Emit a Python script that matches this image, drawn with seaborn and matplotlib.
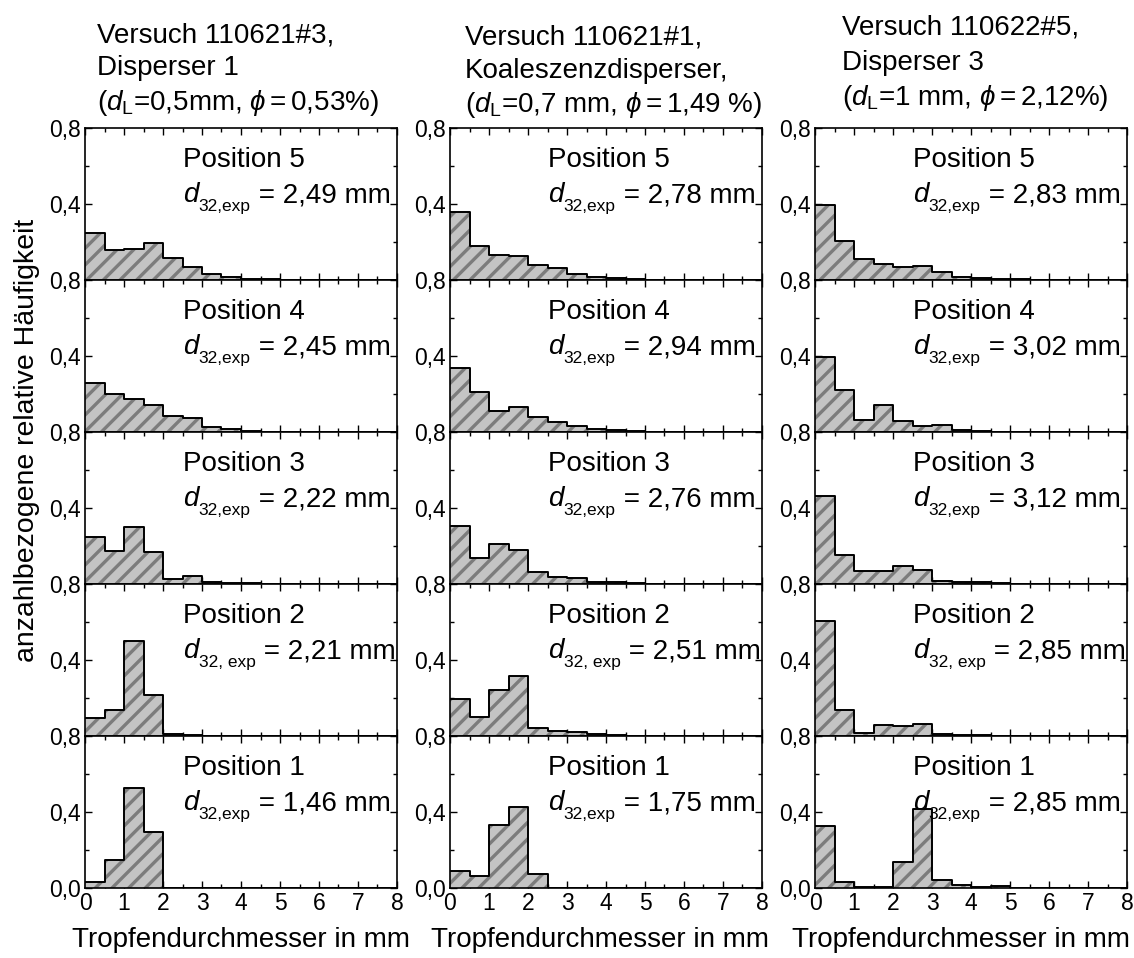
import matplotlib
matplotlib.use("Agg")
import matplotlib.pyplot as plt
from matplotlib.ticker import MultipleLocator, FixedLocator, FuncFormatter
import seaborn as sns

# bin edges of the droplet size classes (mm)
edges = [i * 0.5 for i in range(17)]
centers = [e + 0.25 for e in edges[:-1]]

# relative frequency per class, column 1 (Versuch 110621#3)
c1_pos5 = [0.247, 0.158, 0.164, 0.196, 0.114, 0.068, 0.033, 0.015, 0.007, 0.003, 0.001, 0, 0, 0, 0, 0]
c1_pos4 = [0.260, 0.200, 0.174, 0.143, 0.083, 0.075, 0.026, 0.016, 0.003, 0.001, 0, 0, 0, 0, 0, 0]
c1_pos3 = [0.247, 0.176, 0.299, 0.171, 0.025, 0.040, 0.010, 0.005, 0.003, 0.001, 0, 0, 0, 0, 0, 0]
c1_pos2 = [0.096, 0.135, 0.501, 0.218, 0.010, 0.004, 0.002, 0.001, 0, 0, 0, 0, 0, 0, 0, 0]
c1_pos1 = [0.031, 0.145, 0.527, 0.294, 0, 0, 0, 0, 0, 0, 0, 0, 0, 0, 0, 0]

# column 2 (Versuch 110621#1)
c2_pos5 = [0.360, 0.181, 0.129, 0.124, 0.077, 0.064, 0.033, 0.017, 0.008, 0.003, 0.001, 0, 0, 0, 0, 0]
c2_pos4 = [0.338, 0.208, 0.112, 0.132, 0.078, 0.055, 0.034, 0.018, 0.008, 0.003, 0.001, 0, 0, 0, 0, 0]
c2_pos3 = [0.304, 0.135, 0.213, 0.177, 0.062, 0.039, 0.031, 0.013, 0.008, 0.003, 0.001, 0, 0, 0, 0, 0]
c2_pos2 = [0.195, 0.101, 0.242, 0.317, 0.044, 0.026, 0.021, 0.010, 0.005, 0.002, 0, 0, 0, 0, 0, 0]
c2_pos1 = [0.091, 0.062, 0.330, 0.426, 0.073, 0, 0, 0, 0.002, 0, 0, 0, 0, 0, 0, 0]

# column 3 (Versuch 110622#5)
c3_pos5 = [0.393, 0.205, 0.111, 0.083, 0.068, 0.074, 0.041, 0.016, 0.008, 0.005, 0.003, 0.001, 0, 0, 0, 0]
c3_pos4 = [0.394, 0.223, 0.065, 0.140, 0.060, 0.031, 0.036, 0.010, 0.005, 0.002, 0, 0, 0, 0, 0, 0]
c3_pos3 = [0.465, 0.151, 0.070, 0.070, 0.096, 0.075, 0.018, 0.013, 0.008, 0.003, 0.001, 0, 0, 0, 0, 0]
c3_pos2 = [0.605, 0.135, 0.016, 0.060, 0.055, 0.065, 0.013, 0.005, 0.003, 0.001, 0, 0, 0, 0, 0, 0]
c3_pos1 = [0.325, 0.031, 0.006, 0.006, 0.135, 0.417, 0.043, 0.017, 0.006, 0.010, 0, 0, 0, 0, 0, 0]

columns = [
    [c1_pos5, c1_pos4, c1_pos3, c1_pos2, c1_pos1],
    [c2_pos5, c2_pos4, c2_pos3, c2_pos2, c2_pos1],
    [c3_pos5, c3_pos4, c3_pos3, c3_pos2, c3_pos1],
]
d32_values = [
    ["2,49", "2,45", "2,22", "2,21", "1,46"],
    ["2,78", "2,94", "2,76", "2,51", "1,75"],
    ["2,83", "3,02", "3,12", "2,85", "2,85"],
]
d32_subs = ["32,exp", "32,exp", "32,exp", "32, exp", "32,exp"]
positions = ["Position 5", "Position 4", "Position 3", "Position 2", "Position 1"]
titles = [
    ["Versuch 110621#3,", "Disperser 1", r"($d_{\mathrm{L}}$=0,5mm, $\phi=$0,53%)"],
    ["Versuch 110621#1,", "Koaleszenzdisperser,", r"($d_{\mathrm{L}}$=0,7 mm, $\phi=$1,49 %)"],
    ["Versuch 110622#5,", "Disperser 3", r"($d_{\mathrm{L}}$=1 mm, $\phi=$2,12%)"],
]
xlabel = "Tropfendurchmesser in mm"
ylabel = "anzahlbezogene relative Häufigkeit"

sns.set_style("ticks")
plt.rcParams["font.family"] = ["Liberation Sans", "DejaVu Sans"]
plt.rcParams["mathtext.fontset"] = "custom"
plt.rcParams["mathtext.it"] = "Liberation Sans:italic"
plt.rcParams["mathtext.rm"] = "Liberation Sans"
plt.rcParams["hatch.linewidth"] = 2.4
for key in ["text.color", "axes.labelcolor", "xtick.color", "ytick.color", "axes.edgecolor"]:
    plt.rcParams[key] = "black"

W, H = 1134, 958
fig = plt.figure(figsize=(W / 100, H / 100), dpi=100)

col_left = [85, 450, 815]
ax_w = 312
top0 = 128
ax_h = 152
big = 20
small = 16.5
sub_size = 12.5

comma = FuncFormatter(lambda v, _: f"{v:.1f}".replace(".", ","))

for c in range(3):
    for r in range(5):
        top = top0 + r * ax_h
        ax = fig.add_axes([col_left[c] / W, 1 - (top + ax_h) / H, ax_w / W, ax_h / H])
        vals = columns[c][r]
        sns.histplot(x=centers, weights=vals, bins=edges, element="step", fill=True,
                     facecolor="#c4c4c4", edgecolor="#7c7c7c", linewidth=0,
                     hatch="//", ax=ax)
        sns.histplot(x=centers, weights=vals, bins=edges, element="step", fill=False,
                     color="black", linewidth=1.4, ax=ax)
        ax.set_xlim(0, 8)
        ax.set_ylim(0, 0.8)
        ax.set_ylabel("")
        ax.set_xlabel("")
        ax.xaxis.set_major_locator(MultipleLocator(1))
        ax.xaxis.set_minor_locator(MultipleLocator(0.5))
        if r == 4:
            ax.yaxis.set_major_locator(FixedLocator([0.0, 0.4, 0.8]))
        else:
            ax.yaxis.set_major_locator(FixedLocator([0.4, 0.8]))
        ax.yaxis.set_minor_locator(FixedLocator([0.2, 0.6]))
        ax.yaxis.set_major_formatter(comma)
        ax.tick_params(which="both", direction="in", top=True, right=True,
                       labelsize=small, width=1.0, pad=3)
        ax.tick_params(which="major", length=5)
        ax.tick_params(which="minor", length=3)
        if r < 4:
            ax.tick_params(axis="x", labelbottom=False)
        for sp in ax.spines.values():
            sp.set_linewidth(1.2)

        ax.text(0.315, 0.745, positions[r], transform=ax.transAxes,
                fontsize=big, ha="left", va="baseline")
        # d_32,exp = ... mm, built from pieces so the subscript can be small and low
        t_d = ax.text(0.315, 0.51, "d", style="italic", transform=ax.transAxes,
                      fontsize=big, ha="left", va="baseline")
        t_sub = ax.annotate(d32_subs[r], xy=(1, 0), xycoords=t_d,
                            xytext=(0, -6), textcoords="offset pixels",
                            fontsize=sub_size, ha="left", va="bottom")
        ax.annotate(f" = {d32_values[c][r]} mm", xy=(1, 0), xycoords=(t_sub, t_d),
                    xytext=(0, 0), textcoords="offset pixels",
                    fontsize=big, ha="left", va="bottom")

title_x = [97, 465, 842]
title_base = [[42, 75, 110], [45, 78, 112], [35, 70, 105]]
for c in range(3):
    for i, line in enumerate(titles[c]):
        fig.text(title_x[c] / W, 1 - title_base[c][i] / H, line,
                 fontsize=big, ha="left", va="baseline")

# x labels under each column (slightly shifted so the last one fits)
xlabel_centers = [241, 600, 961]
for xc in xlabel_centers:
    fig.text(xc / W, 1 - 947 / H, xlabel, fontsize=big, ha="center", va="baseline")

fig.text(27 / W, 1 - 440 / H, ylabel, rotation=90, fontsize=20.5,
         ha="center", va="center")

fig.savefig("out.png", dpi=100)
